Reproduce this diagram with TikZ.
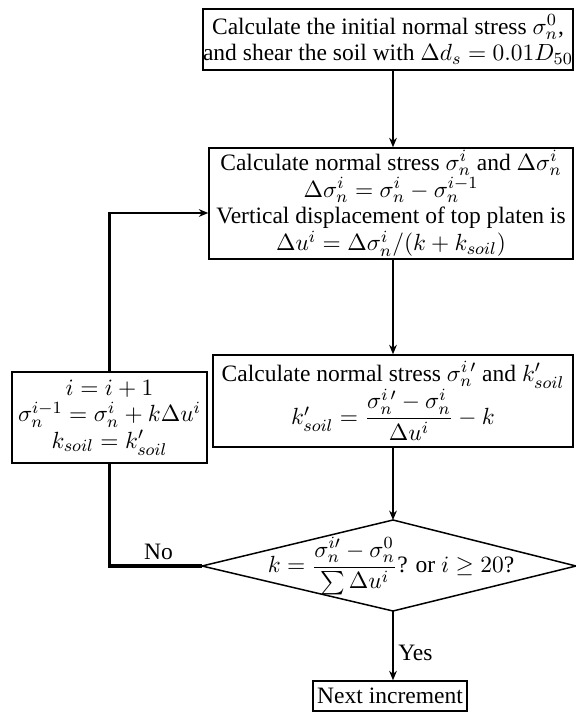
\documentclass[tikz,border=0pt]{standalone}
\usepackage{amsmath}
\usepackage{fontspec}
\setmainfont{Liberation Serif}
\usetikzlibrary{arrows.meta}
\newcommand\mytightlines{\lineskiplimit=-30pt\relax}
\newcommand\myboxfont{\fontsize{11}{12.6}\selectfont\mytightlines}
\newcommand\mytopfont{\fontsize{11}{12.6}\selectfont\mytightlines}
\newcommand\mythreefont{\fontsize{11}{20.4}\selectfont\mytightlines}
\newcommand\myleftfont{\fontsize{11}{12.4}\selectfont\mytightlines}
\begin{document}
\begin{tikzpicture}[x=0.468pt,y=-0.468pt,
  boxbase/.style={draw, line width=0.7pt, align=center, inner sep=0pt, font=\myboxfont},
  lbl/.style={font=\fontsize{11}{12}\selectfont, inner sep=2pt},
  arr/.style={line width=0.95pt, -{Stealth[length=4.4pt,width=3.6pt]}},
  loopline/.style={line width=1.55pt}]
\useasboundingbox (0,0) rectangle (576,713);
\coordinate (xm) at (393,0);

\node[boxbase, minimum width=370*0.468pt, minimum height=61*0.468pt, font=\mytopfont] (top) at (388,39.5)
  {Calculate the initial normal stress $\sigma_n^0$,\\ and shear the soil with $\Delta d_s = 0.01D_{50}$};

\node[boxbase, minimum width=364*0.468pt, minimum height=111*0.468pt] (b2) at (391,203.5)
  {Calculate normal stress $\sigma_n^i$ and $\Delta\sigma_n^i$\\
   $\Delta\sigma_n^i = \sigma_n^i - \sigma_n^{i-1}$\\
   Vertical displacement of top platen is\\
   $\Delta u^i = \Delta\sigma_n^i/(k + k_{soil})$};

\node[boxbase, minimum width=360*0.468pt, minimum height=92*0.468pt, font=\mythreefont] (b3) at (393,401)
  {Calculate normal stress $\sigma_n^{i\,\prime}$ and $k'_{soil}$\\
   $k'_{soil} = \dfrac{\sigma_n^{i\,\prime} - \sigma_n^i}{\Delta u^i} - k$};

\node[boxbase, minimum width=195*0.468pt, minimum height=91*0.468pt, font=\myleftfont] (lb) at (109.5,417.5)
  {$i = i + 1$\\
   $\sigma_n^{i-1} = \sigma_n^i + k\Delta u^i$\\
   $k_{soil} = k'_{soil}$};

\node[boxbase, minimum width=154*0.468pt, minimum height=30*0.468pt] (nx) at (390,696)
  {Next increment};

% decision diamond
\coordinate (dL) at (202,566);
\coordinate (dT) at (393,520);
\coordinate (dR) at (576,566);
\coordinate (dB) at (393,611);
\draw[line width=0.7pt, line join=miter] (dL) -- (dT) -- (dR) -- (dB) -- cycle;
\node[lbl] (dtext) at (391,566)
  {$k = \dfrac{\sigma_n^{i\prime} - \sigma_n^0}{\sum \Delta u^i}$? or $i \geq 20$?};

% main flow
\draw[arr] (top.south -| xm) -- (b2.north -| xm);
\draw[arr] (b2.south -| xm) -- (b3.north -| xm);
\draw[arr] (b3.south -| xm) -- (dT);
\draw[arr] (dB) -- node[lbl, right, pos=0.6] (yes) {Yes} (nx.north -| xm);

% loop back
\draw[loopline, line join=miter] (dL) -- node[lbl, above, pos=0.47] (no) {No} (dL -| lb.south) -- (lb.south);
\coordinate (ly) at (0,213);
\draw[loopline] (lb.north) -- (lb.north |- ly) coordinate (c1);
\draw[arr] ([xshift=-0.75pt]c1) -- (b2.west |- ly);
\end{tikzpicture}
\end{document}
